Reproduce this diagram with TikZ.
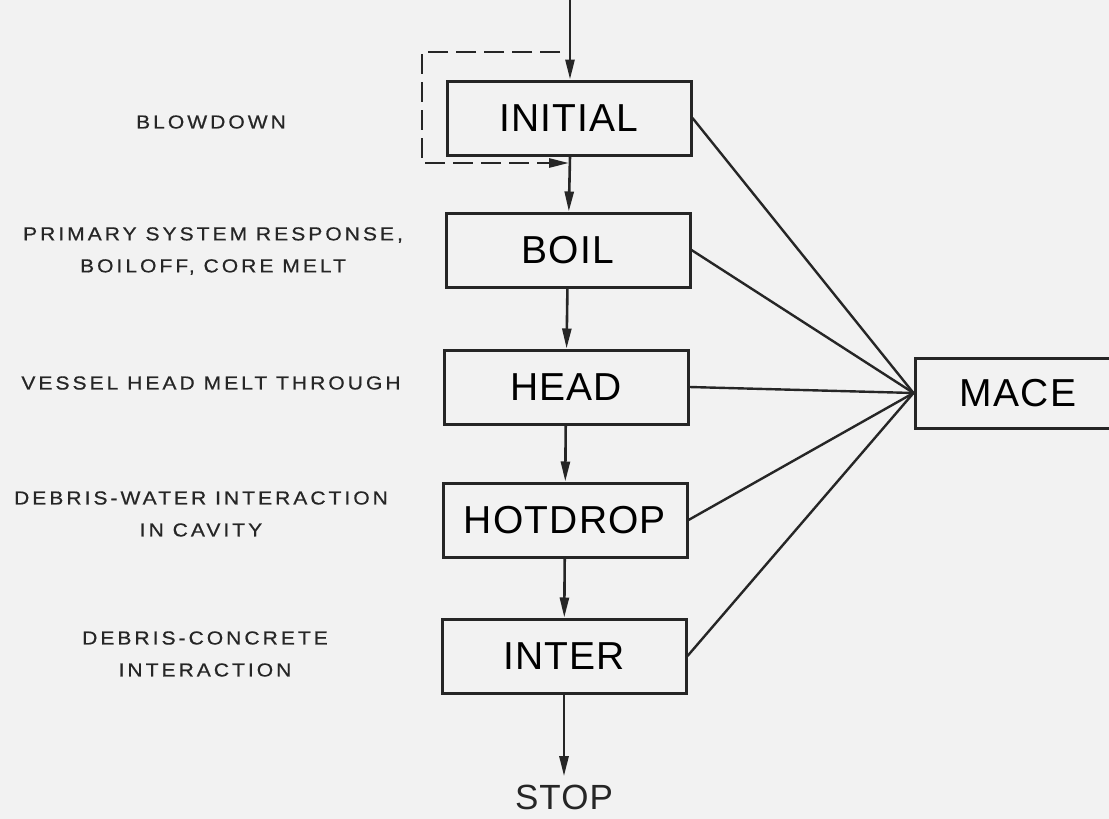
\documentclass[tikz,border=0pt]{standalone}
\usepackage{fontspec}
\usetikzlibrary{arrows.meta}
\newfontfamily\boxfont[LetterSpace=3]{Liberation Sans}
\newfontfamily\labfont[LetterSpace=16,FakeStretch=1.12,FakeBold=0.6]{Liberation Sans}
\tikzset{
  stage/.style={draw=black!85,line width=1.5pt,minimum width=122pt,minimum height=37pt,inner sep=0pt,
    font=\boxfont\fontsize{19.5}{22}\selectfont},
  phase/.style={align=center,text=black!85,font=\labfont\fontsize{9.4}{16}\selectfont},
  flow/.style={draw=black!85,line width=1.3pt,-{Triangle[length=10pt,width=4.5pt]}},
  bypass/.style={flow,dash pattern=on 10pt off 4pt},
  tie/.style={draw=black!85,line width=1.2pt}
}
\begin{document}
\begin{tikzpicture}[x=0.5pt,y=-0.5pt]
\fill[black!5,use as bounding box] (0,0) rectangle (1109,819);
\clip (0,0) rectangle (1109,819);

% code stages
\node[stage] (initial) at (569,118) {INITIAL};
\node[stage] (boil) at (568,250) {BOIL};
\node[stage] (head) at (566,387) {HEAD};
\node[stage] (hotdrop) at (565,520) {HOTDROP};
\node[stage] (inter) at (564,656) {INTER};
\node[stage,minimum width=103pt,minimum height=35pt] (mace) at (1018,393) {MACE};
\node[inner sep=4pt,text=black!85,font=\boxfont\fontsize{17.5}{20}\selectfont] (stop) at (564,797) {STOP};

% phases
\node[phase] (lblow) at (211,122) {BLOWDOWN};
\node[phase] (lboil) at (213,251) {PRIMARY SYSTEM RESPONSE,\\BOILOFF, CORE MELT};
\node[phase] (lhead) at (211,383) {VESSEL HEAD MELT THROUGH};
\node[phase] (lhot) at (201,514) {DEBRIS-WATER INTERACTION\\IN CAVITY};
\node[phase] (linter) at (205,654) {DEBRIS-CONCRETE\\INTERACTION};

% main flow
\coordinate (entry) at (570,0);
\draw[flow] (entry) -- (entry |- initial.north);
\draw[flow] (initial.south -| entry) -- (boil);
\draw[flow] (boil) -- (head);
\draw[flow] (head) -- (hotdrop);
\draw[flow] (hotdrop) -- (inter);
\draw[flow] (inter) -- (stop);

% skip of INITIAL
\coordinate (tap) at (560,52);
\coordinate (rejoin) at (569,163);
\draw[bypass] (tap) -- (422,52) |- (rejoin);

% to MACE
\foreach \s in {initial,boil,head,hotdrop,inter}
  \draw[tie] (\s.east) -- (mace.west);
\end{tikzpicture}
\end{document}
